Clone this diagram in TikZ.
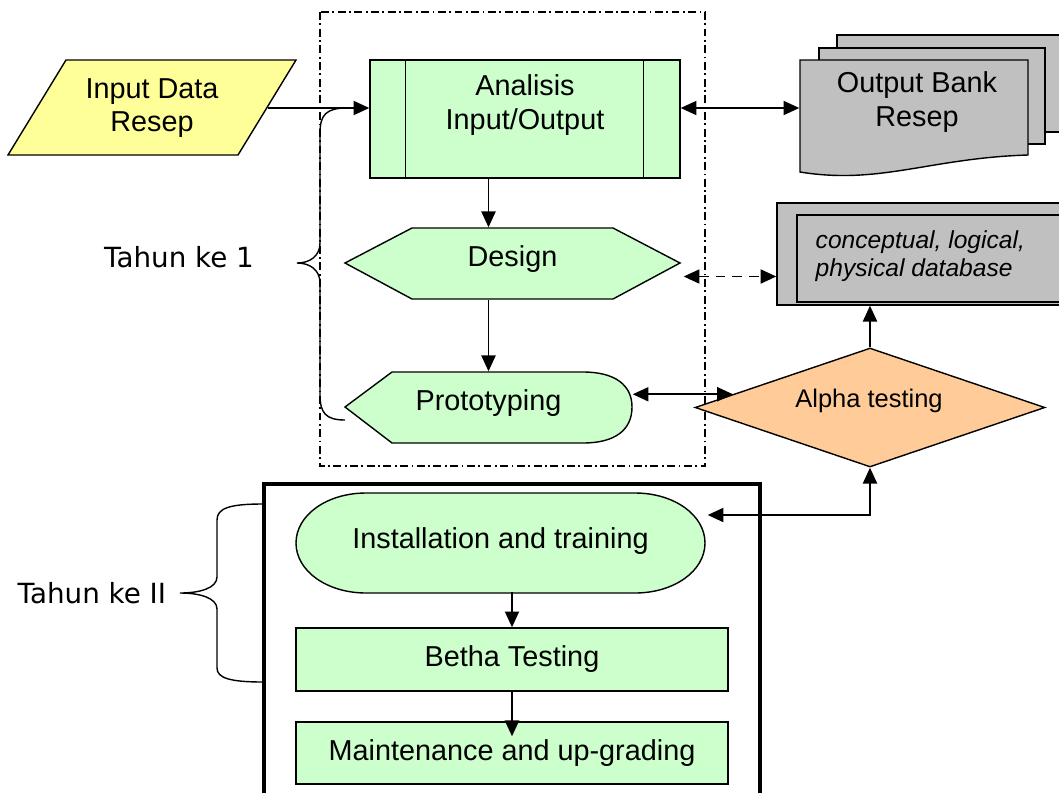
\documentclass[tikz,border=0pt]{standalone}
\usepackage{fontspec}
\setmainfont{Liberation Sans}
\newfontfamily\tahomafont{DejaVu Sans}
\usetikzlibrary{shapes,arrows.meta,positioning,calc}
\definecolor{BoxGreen}{RGB}{204,255,204}
\definecolor{InputYellow}{RGB}{255,255,153}
\definecolor{DocGray}{RGB}{192,192,192}
\definecolor{TestOrange}{RGB}{255,204,153}

\begin{document}
\begin{tikzpicture}[x=0.02cm, y=-0.02cm, line width=0.8pt,
  >={Triangle[length=9pt,width=8pt]},
  txt/.style={align=center, inner sep=0pt, font=\fontsize{16.4}{19}\selectfont},
  greenbox/.style={draw, fill=BoxGreen, txt},
  yeartxt/.style={inner sep=0pt, font=\tahomafont\fontsize{15.8}{18}\selectfont},
  conn/.style={line width=1.1pt},
  dasharrow/.style={conn, dash pattern=on 5.5pt off 4pt}]
  \useasboundingbox (0,0) rectangle (1059,792);
  \clip (0,0) rectangle (1059,792);

  % Frame year 1
  \draw[dash pattern=on 4.5pt off 2pt on 1pt off 2pt, line width=0.6pt] (320,12) rectangle (705,466);

  % Input
  \draw[fill=InputYellow] (66,60) -- (296,60) -- (238,155) -- (8,155) -- cycle;
  \node[txt, minimum width=4.6cm, minimum height=1.9cm] (inp) at (152,108) {Input Data\\Resep};

  % Analisis (predefined process)
  \node[greenbox, minimum width=6.2cm, minimum height=2.36cm] (ana) at (525,119) {};
  \draw ($(ana.north west)+(36,0)$) -- ($(ana.south west)+(36,0)$)
        ($(ana.north east)+(-37,0)$) -- ($(ana.south east)+(-37,0)$);
  \node[txt] (anatxt) at (525,105) {Analisis\\Input/Output};

  % Output documents
  \draw[fill=DocGray] (837,35) rectangle (1075,132);
  \draw[fill=DocGray] (819,48) rectangle (1045,144);
  \draw[fill=DocGray] (800,60) -- (1028,60) -- (1028,155)
    .. controls (930,158) and (880,185) .. (800,172) -- cycle;
  \node[txt, minimum width=4.56cm, minimum height=2.24cm] (outp) at (914,116) {};
  \node[txt] (outtxt) at (917,102) {Output Bank\\Resep};

  % Database
  \node[draw, fill=DocGray, minimum width=5.86cm, minimum height=2.04cm] (db) at (923.5,254) {};
  \draw (1075,215) -- (797,215) -- (797,302) -- (1075,302);
  \node[anchor=west, align=left, inner sep=0pt, font=\itshape\fontsize{14}{15.9}\selectfont] (dbtxt) at (815,256) {conceptual, logical,\\physical database};

  % Design
  \draw[fill=BoxGreen] (345,263) -- (412,228) -- (613,228) -- (680,263) -- (613,299) -- (412,299) -- cycle;
  \node[txt, minimum width=6.7cm, minimum height=1.42cm] (design) at (512.5,263.5) {};
  \node[txt] (desgtxt) at (512.5,259) {Design};

  % Prototyping
  \draw[fill=BoxGreen] (345,407) -- (392,372) -- (583,372)
    .. controls (615,372) and (632,385) .. (632,407)
    .. controls (632,430) and (615,443) .. (583,443) -- (392,443) -- cycle;
  \node[txt, minimum width=5.74cm, minimum height=1.42cm] (proto) at (488.5,407.5) {};
  \node[txt] (prototxt) at (488.5,403) {Prototyping};

  % Alpha testing
  \node[diamond, draw, fill=TestOrange, aspect=2.94, minimum width=7cm, minimum height=2.38cm,
        inner sep=0pt] (alpha) at (870,407.5) {};
  \node[inner sep=0pt, font=\fontsize{14.5}{17}\selectfont] (alphatxt) at (869,401) {Alpha testing};

  % Year 2
  \draw[line width=2pt] (264,484) rectangle (760,815);
  \draw[fill=BoxGreen] (366,493) -- (635,493)
    .. controls (674,493) and (705,515) .. (705,543)
    .. controls (705,571) and (674,593) .. (635,593) -- (366,593)
    .. controls (327,593) and (296,571) .. (296,543)
    .. controls (296,515) and (327,493) .. (366,493) -- cycle;
  \node[txt, minimum width=8.18cm, minimum height=2cm] (inst) at (500.5,541) {Installation and training};
  \node[greenbox, minimum width=8.64cm, minimum height=1.26cm] (bt) at (512,659.5) {Betha Testing};
  \node[greenbox, minimum width=8.64cm, minimum height=1.24cm] (mt) at (512,753) {Maintenance and up-grading};

  % Braces
  \draw (347,108) .. controls (326,108) and (320,115) .. (320,133) -- (320,243)
    .. controls (320,256) and (310,263) .. (297,263)
    .. controls (310,263) and (320,270) .. (320,283) -- (320,395)
    .. controls (320,413) and (326,420) .. (345,420);
  \node[yeartxt] (t1) at (179,257.5) {Tahun ke 1};
  \draw (263,504) .. controls (230,504) and (217,508) .. (217,520) -- (217,577)
    .. controls (217,588) and (200,593) .. (180,593)
    .. controls (200,593) and (217,598) .. (217,609) -- (217,668)
    .. controls (217,678) and (230,682) .. (263,682);
  \node[yeartxt, anchor=west] (t2) at (17,593.5) {Tahun ke II};

  % Connectors
  \draw[conn, ->] (inp.east) -- (inp.east -| ana.west);
  \draw[conn, <->] (inp.east -| ana.east) -- (inp.east -| outp.west);
  \draw[conn, ->] (ana.south -| proto.north) -- (design.north -| proto.north);
  \draw[conn, ->] (design.south -| proto.north) -- (proto.north);
  \coordinate (dd) at ($(design.east)+(3,13)$);
  \draw[<->, dasharrow] (dd) -- (dd -| db.west);
  \coordinate (pa) at ($(alpha.west)!0.22!(alpha.north)$);
  \draw[conn, <->] (pa -| proto.east) -- (pa);
  \draw[conn, ->] (alpha.north) -- (alpha.north |- db.south);
  \coordinate (ia) at ($(inst.east)+(2,-26)$);
  \draw[conn, <->] (ia) -| (alpha.south);
  \draw[conn, ->] (inst.south -| bt.north) -- (bt.north);
  \draw[conn, ->, shorten >=-0.3cm] (bt.south) -- (mt.north);
\end{tikzpicture}
\end{document}
